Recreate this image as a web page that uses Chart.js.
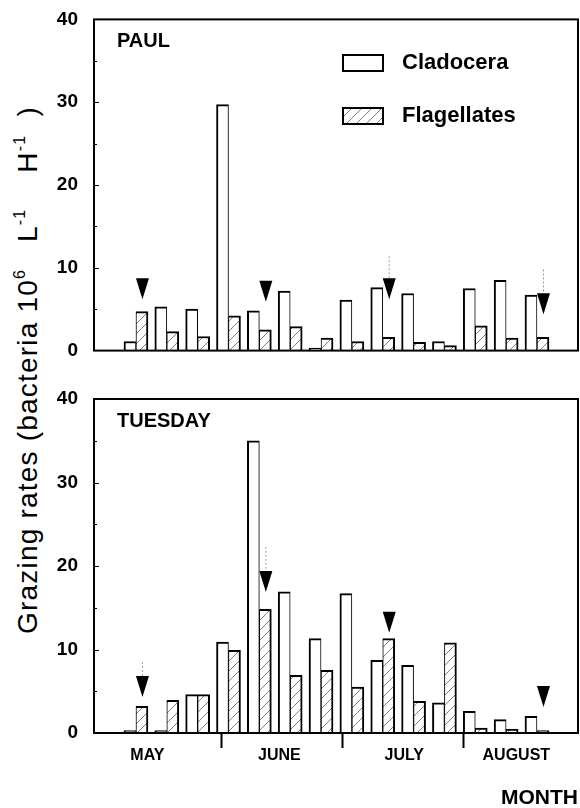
<!DOCTYPE html>
<html>
<head>
<meta charset="utf-8">
<script src="https://cdn.jsdelivr.net/npm/chart.js@4.4.1/dist/chart.umd.min.js"></script>
<style>
	body { margin: 0; background: #fff; width: 580px; height: 808px; position: relative; overflow: hidden; font-family: "Liberation Sans", Arial, sans-serif; }
	#paulBox { position: absolute; left: 0; top: 0; width: 580px; height: 370px; }
	#tuesBox { position: absolute; left: 0; top: 370px; width: 580px; height: 438px; }
	#ytitle { position: absolute; left: -302px; top: 353px; width: 660px; height: 34px; line-height: 34px; text-align: center; font-size: 28px; letter-spacing: 1.2px; color: #000; transform: rotate(-90deg); white-space: nowrap; }
	#ytitle sup { font-size: 16px; position: relative; top: -12px; vertical-align: baseline; line-height: 0; }
</style>
</head>
<body>
<div id="ytitle">Grazing rates (bacteria 10<sup>6</sup>&nbsp;&nbsp; L<sup>-1</sup>&nbsp;&nbsp;&nbsp; H<sup>-1</sup>&nbsp;&nbsp;)</div>
<div id="paulBox"><canvas id="paulChart" width="580" height="370"></canvas></div>
<div id="tuesBox"><canvas id="tuesChart" width="580" height="438"></canvas></div>
<script>
const samples = [1, 2, 3, 4, 5, 6, 7, 8, 9, 10, 11, 12, 13, 14];
const paulCladocera = [1.1, 5.3, 5.0, 29.7, 4.8, 7.2, 0.3, 6.1, 7.6, 6.9, 1.1, 7.5, 8.5, 6.7];
const paulFlagellates = [4.7, 2.3, 1.7, 4.2, 2.5, 2.9, 1.5, 1.1, 1.6, 1.0, 0.6, 3.0, 1.5, 1.6];
const tuesCladocera = [0.3, 0.3, 4.6, 10.9, 35.0, 16.9, 11.3, 16.7, 8.7, 8.1, 3.6, 2.6, 1.6, 2.0];
const tuesFlagellates = [3.2, 3.9, 4.6, 9.9, 14.8, 6.9, 7.5, 5.5, 11.3, 3.8, 10.8, 0.6, 0.45, 0.3];
const months = ['MAY', 'JUNE', 'JULY', 'AUGUST'];
const monthCentres = [1.37, 5.65, 9.7, 13.33];
const monthBreaks = [3.77, 7.69, 11.61];
const paulArrows = [1, 5, 9, 14];
const paulArrowTips = [6.2, 5.9, 6.2, 4.4];
const paulStems = [null, null, 11.4, 9.8];
const tuesArrows = [1, 5, 9, 14];
const tuesArrowTips = [4.3, 16.9, 12.0, 3.1];
const tuesStems = [8.5, 22.3, null, null];

Chart.defaults.font.family = '"Liberation Sans", Arial, sans-serif';
Chart.defaults.color = '#000';

function makeHatch() {
	const c = document.createElement('canvas');
	c.width = 10; c.height = 10;
	const g = c.getContext('2d');
	g.fillStyle = '#fff';
	g.fillRect(0, 0, 10, 10);
	g.strokeStyle = '#808080';
	g.lineWidth = 1;
	g.beginPath();
	g.moveTo(0, 10); g.lineTo(10, 0);
	g.moveTo(-1, 1); g.lineTo(1, -1);
	g.moveTo(9, 11); g.lineTo(11, 9);
	g.stroke();
	return g.createPattern(c, 'repeat');
}
const hatch = makeHatch();

const decor = {
	id: 'decor',
	afterDatasetsDraw(chart, args, o) {
		const ctx = chart.ctx, a = chart.chartArea, y = chart.scales.y;
		ctx.save();
		ctx.strokeStyle = '#000';
		ctx.lineWidth = 1;
		for (let v = 5; v < 40; v += 5) {
			const py = Math.round(y.getPixelForValue(v)) + 0.5;
			ctx.beginPath();
			ctx.moveTo(a.left, py);
			ctx.lineTo(a.left + (v % 10 ? 3 : 5), py);
			ctx.stroke();
		}
		ctx.lineWidth = 2;
		ctx.strokeRect(a.left, a.top, a.right - a.left, a.bottom - a.top);

		const meta = chart.getDatasetMeta(1);
		o.arrows.forEach((n, k) => {
			const x = meta.data[n - 1].x;
			const tip = y.getPixelForValue(o.tips[k]);
			if (o.stems[k] !== null) {
				ctx.save();
				ctx.strokeStyle = '#9a9a9a';
				ctx.lineWidth = 1;
				ctx.setLineDash([2, 2]);
				ctx.beginPath();
				ctx.moveTo(x + 0.5, y.getPixelForValue(o.stems[k]));
				ctx.lineTo(x + 0.5, tip - 21);
				ctx.stroke();
				ctx.restore();
			}
			ctx.fillStyle = '#000';
			ctx.beginPath();
			ctx.moveTo(x - 6, tip - 21);
			ctx.lineTo(x + 7, tip - 21);
			ctx.lineTo(x + 0.5, tip);
			ctx.closePath();
			ctx.fill();
		});

		ctx.fillStyle = '#000';
		ctx.font = 'bold 20px "Liberation Sans", Arial, sans-serif';
		ctx.textBaseline = 'middle';
		ctx.textAlign = 'left';
		ctx.fillText(o.title, a.left + 23, a.top + 22);

		if (o.legend) {
			chart.data.datasets.forEach((ds, k) => {
				const by = 55 + k * 53;
				ctx.fillStyle = ds.backgroundColor;
				ctx.fillRect(343, by, 40, 16);
				ctx.strokeStyle = '#000';
				ctx.lineWidth = 2;
				ctx.strokeRect(343, by, 40, 16);
				ctx.fillStyle = '#000';
				ctx.font = 'bold 22px "Liberation Sans", Arial, sans-serif';
				ctx.fillText(ds.label, 402, by + 8);
			});
		}
		ctx.restore();
	}
};

function makeChart(id, clad, flag, showMonths, deco) {
	return new Chart(document.getElementById(id), {
		type: 'bar',
		data: {
			labels: samples,
			datasets: [
				{ label: 'Cladocera', data: clad, backgroundColor: '#fff', borderColor: '#000', borderWidth: { top: 2, left: 2, right: 1 }, barThickness: 12 },
				{ label: 'Flagellates', data: flag, backgroundColor: hatch, borderColor: '#000', borderWidth: { top: 2, left: 1, right: 2 }, barThickness: 12 }
			]
		},
		options: {
			responsive: false,
			animation: false,
			devicePixelRatio: 1,
			layout: { padding: showMonths ? { top: 29, right: 2, bottom: 0, left: 0 } : { top: 18, right: 2, bottom: 18, left: 0 } },
			plugins: { legend: { display: false }, tooltip: { enabled: false }, decor: deco },
			scales: {
				x: {
					type: 'linear',
					display: showMonths,
					min: -0.36,
					max: 15.33,
					bounds: 'data',
					offset: false,
					afterBuildTicks: s => {
						s.ticks = monthCentres.concat(monthBreaks).sort((p, q) => p - q).map(v => ({ value: v }));
					},
					afterFit: s => { s.height = showMonths ? 75 : 0; },
					ticks: {
						autoSkip: false,
						maxRotation: 0,
						padding: -2,
						font: { size: 16, weight: 'bold' },
						callback: v => {
							const k = monthCentres.indexOf(v);
							return k < 0 ? '' : months[k];
						}
					},
					grid: {
						offset: false,
						drawOnChartArea: false,
						drawTicks: true,
						tickLength: 15,
						tickWidth: 2,
						tickColor: c => (c.tick && monthBreaks.includes(c.tick.value)) ? '#000' : 'rgba(0,0,0,0)'
					},
					border: { display: false },
					title: { display: true, text: 'MONTH', align: 'end', font: { size: 21, weight: 'bold' }, padding: { top: 0, bottom: -3 } }
				},
				y: {
					min: 0,
					max: 40,
					afterFit: s => { s.width = 94; },
					ticks: { stepSize: 10, padding: 8, font: { size: 19, weight: 'bold' } },
					grid: { display: false },
					border: { display: false }
				}
			}
		},
		plugins: [decor]
	});
}

makeChart('paulChart', paulCladocera, paulFlagellates, false,
	{ title: 'PAUL', arrows: paulArrows, tips: paulArrowTips, stems: paulStems, legend: true });
makeChart('tuesChart', tuesCladocera, tuesFlagellates, true,
	{ title: 'TUESDAY', arrows: tuesArrows, tips: tuesArrowTips, stems: tuesStems, legend: false });
</script>
</body>
</html>
